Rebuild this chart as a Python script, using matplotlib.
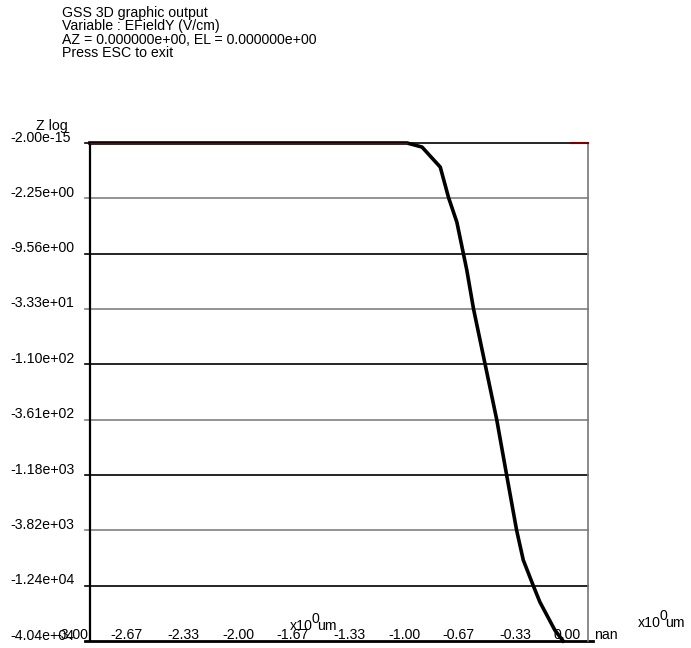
import numpy as np
import matplotlib.pyplot as plt
from matplotlib import transforms

plt.rcParams['font.family'] = ['Liberation Sans', 'DejaVu Sans']
plt.rcParams['font.size'] = 10.2

# header text
header = ["GSS 3D graphic output",
          "Variable : EFieldY (V/cm)",
          "AZ = 0.000000e+00, EL = 0.000000e+00",
          "Press ESC to exit"]

# axis ticks (z is shown on a log(1+|E|) scale)
x_ticks = [-3.00, -2.67, -2.33, -2.00, -1.67, -1.33, -1.00, -0.67, -0.33, 0.00]
x_labels = ["-3.00", "-2.67", "-2.33", "-2.00", "-1.67", "-1.33", "-1.00", "-0.67", "-0.33", "0.00"]
z_ticks = [-2.00e-15, -2.25e+00, -9.56e+00, -3.33e+01, -1.10e+02, -3.61e+02,
           -1.18e+03, -3.82e+03, -1.24e+04, -4.04e+04]
z_labels = ["-2.00e-15", "-2.25e+00", "-9.56e+00", "-3.33e+01", "-1.10e+02", "-3.61e+02",
            "-1.18e+03", "-3.82e+03", "-1.24e+04", "-4.04e+04"]

# EFieldY profile (um, V/cm)
pos_um = [-3.00, -1.09, -1.00, -0.89, -0.84, -0.79, -0.73, -0.69, -0.62, -0.55,
          -0.49, -0.43, -0.39, -0.33, -0.29, -0.20, -0.15]
efield = [0, 0, -0.09, -0.67, -2.2, -4.4, -14, -33, -110, -360,
          -1180, -3820, -7200, -12400, -17600, -32000, -40400]
edge_um = [-0.10, 0.00]
edge_e = [0, 0]


def zlog(e):
    return np.log10(1 + np.abs(np.asarray(e, dtype=float)))


fig = plt.figure(figsize=(6.91, 6.48), dpi=100)
W, H = 691, 648
ax = fig.add_axes([90 / W, 7 / H, 498 / W, 498 / H])
ax.set_xlim(-3, 0)
zmax = zlog(z_ticks[-1])
ax.set_ylim(zmax, 0)
ax.set_xticks([])
ax.set_yticks([])
for s in ['top', 'bottom']:
    ax.spines[s].set_visible(False)
ax.spines['left'].set_linewidth(1.6)
ax.spines['left'].set_color('black')
ax.spines['right'].set_linewidth(1.2)
ax.spines['right'].set_color('#777777')

zt = zlog(z_ticks)
for i, z in enumerate(zt[:-1]):
    col = 'black' if i % 2 == 0 else '#808080'
    ax.axhline(z, xmin=-0.01, xmax=1, color=col, lw=1.2, clip_on=False, zorder=1)
ax.axhline(zt[-1], xmin=-0.01, xmax=1.01, color='black', lw=2, clip_on=False, zorder=1)

ax.plot(pos_um, zlog(efield), color='black', lw=2.6, clip_on=False, zorder=3,
        solid_joinstyle='round')
ax.plot(pos_um[:2], zlog(efield[:2]), color='#7a0000', lw=1, clip_on=False, zorder=4)
ax.plot(edge_um, zlog(edge_e), color='#7a0000', lw=1.5, clip_on=False, zorder=4)

# labels
ylab_tr = transforms.offset_copy(ax.get_yaxis_transform(), fig, x=0, y=1.5, units='dots')
for z, lab in zip(zt, z_labels):
    ax.text(-80 / 498, z, lab, transform=ylab_tr, ha='left', va='baseline')

xlab_tr = transforms.offset_copy(ax.transData, fig, x=-34, y=2, units='dots')
for v, lab in zip(x_ticks, x_labels):
    ax.text(v, zmax, lab, transform=xlab_tr, ha='left', va='baseline', clip_on=False)
fig.text(594 / W, 1 - 639 / H, "nan", ha='left', va='baseline')

fig.text(36 / W, 1 - 130 / H, "Z log", ha='left', va='baseline')

for xs, yb in [(290, 630), (638, 627)]:
    fig.text(xs / W, 1 - yb / H, "x10", ha='left', va='baseline')
    fig.text((xs + 21) / W, 1 - (yb - 7) / H, "0", ha='left', va='baseline')
    fig.text((xs + 27) / W, 1 - yb / H, "um", ha='left', va='baseline')

for i, line in enumerate(header):
    fig.text(62 / W, 1 - (16.5 + 13.5 * i) / H, line, ha='left', va='baseline')

fig.savefig("out.png", dpi=100)
